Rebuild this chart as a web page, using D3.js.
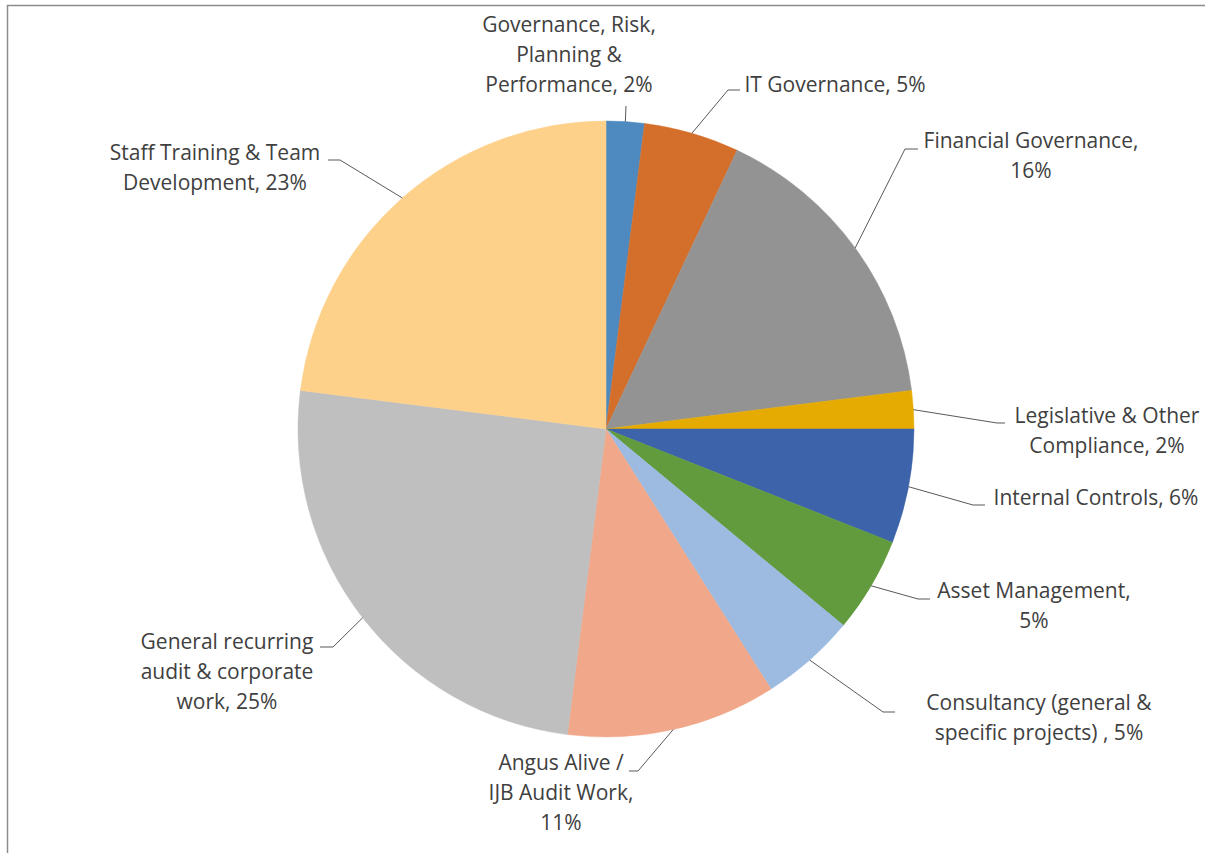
<!DOCTYPE html>
<html>
<head>
<meta charset="utf-8">
<script src="https://cdn.jsdelivr.net/npm/d3@7"></script>
<style>
  body { margin: 0; background: #fff; }
  svg text { font-family: "Open Sans", Lato, sans-serif; fill: #404040; }
</style>
</head>
<body>
<div id="chart"></div>
<script>
// data, clockwise from 12 o'clock
let categories = [
  "Governance, Risk, Planning & Performance",
  "IT Governance",
  "Financial Governance",
  "Legislative & Other Compliance",
  "Internal Controls",
  "Asset Management",
  "Consultancy (general & specific projects) ",
  "Angus Alive / IJB Audit Work",
  "General recurring audit & corporate work",
  "Staff Training & Team Development"
]
let values = [2, 5, 16, 2, 6, 5, 5, 11, 25, 23]

// how each label wraps in the picture
let labelLines = [
  ["Governance, Risk,", "Planning &", "Performance, 2%"],
  ["IT Governance, 5%"],
  ["Financial Governance,", "16%"],
  ["Legislative & Other", "Compliance, 2%"],
  ["Internal Controls, 6%"],
  ["Asset Management,", "5%"],
  ["Consultancy (general &", "specific projects) , 5%"],
  ["Angus Alive /", "IJB Audit Work,", "11%"],
  ["General recurring", "audit & corporate", "work, 25%"],
  ["Staff Training & Team", "Development, 23%"]
]

let colors = ["#4e8abf", "#d46e2b", "#939393", "#e5ab00", "#3d63ab",
              "#619b3d", "#9dbbe1", "#f1a88a", "#bfbfbf", "#fed18a"]

// label layout: text centre x, first baseline y, leader elbow and end
let labelPos = [
  {x: 569,  y: 32,  elbow: null,       end: [626, 106]},
  {x: 835,  y: 92,  elbow: [728, 90],  end: [740, 90]},
  {x: 1031, y: 148, elbow: [905, 149], end: [918, 149]},
  {x: 1107, y: 423, elbow: [997, 423], end: [1005, 423]},
  {x: 1096, y: 505, elbow: [973, 505], end: [985, 505]},
  {x: 1034, y: 598, elbow: [918, 599], end: [930, 599]},
  {x: 1039, y: 710, elbow: [883, 712], end: [895, 712]},
  {x: 561,  y: 770, elbow: [638, 771], end: [629, 771]},
  {x: 227,  y: 649, elbow: [333, 647], end: [320, 647]},
  {x: 215,  y: 160, elbow: [340, 160], end: [328, 160]}
]

let width = 1205
let height = 853
let cx = 606
let cy = 429
let radius = 308
let lineHeight = 30

let svg = d3.select("#chart")
  .append("svg")
  .attr("width", width)
  .attr("height", height)

// chart area border (only top and left edges are visible in the shot)
svg.append("rect")
  .attr("x", 7.5)
  .attr("y", 5.5)
  .attr("width", width + 10)
  .attr("height", height + 10)
  .attr("fill", "none")
  .attr("stroke", "#8c8c8c")
  .attr("stroke-width", 1.5)

let pie = d3.pie().sort(null).value(d => d)
let arcs = pie(values)

let arc = d3.arc().innerRadius(0).outerRadius(radius)
let edgeArc = d3.arc().innerRadius(radius).outerRadius(radius)

let g = svg.append("g")
  .attr("transform", `translate(${cx},${cy})`)

g.selectAll("path.slice")
  .data(arcs)
  .enter()
  .append("path")
  .attr("class", "slice")
  .attr("d", arc)
  .attr("fill", (d, i) => colors[i])
  .attr("stroke", (d, i) => colors[i])
  .attr("stroke-width", 0.5)

// leader lines from the middle of each slice's rim
svg.selectAll("polyline.leader")
  .data(arcs)
  .enter()
  .append("polyline")
  .attr("class", "leader")
  .attr("points", (d, i) => {
    let c = edgeArc.centroid(d)
    let p = labelPos[i]
    let pts = [[cx + c[0], cy + c[1]]]
    if (p.elbow) pts.push(p.elbow)
    pts.push(p.end)
    return pts.map(q => q.join(",")).join(" ")
  })
  .attr("fill", "none")
  .attr("stroke", "#595959")
  .attr("stroke-width", 1)

let labels = svg.selectAll("text.label")
  .data(categories)
  .enter()
  .append("text")
  .attr("class", "label")
  .attr("text-anchor", "middle")
  .attr("font-size", 21)

labels.selectAll("tspan")
  .data((d, i) => labelLines[i].map((t, k) => ({t: t, k: k, i: i})))
  .enter()
  .append("tspan")
  .attr("x", d => labelPos[d.i].x)
  .attr("y", d => labelPos[d.i].y + d.k * lineHeight)
  .text(d => d.t)
</script>
</body>
</html>
